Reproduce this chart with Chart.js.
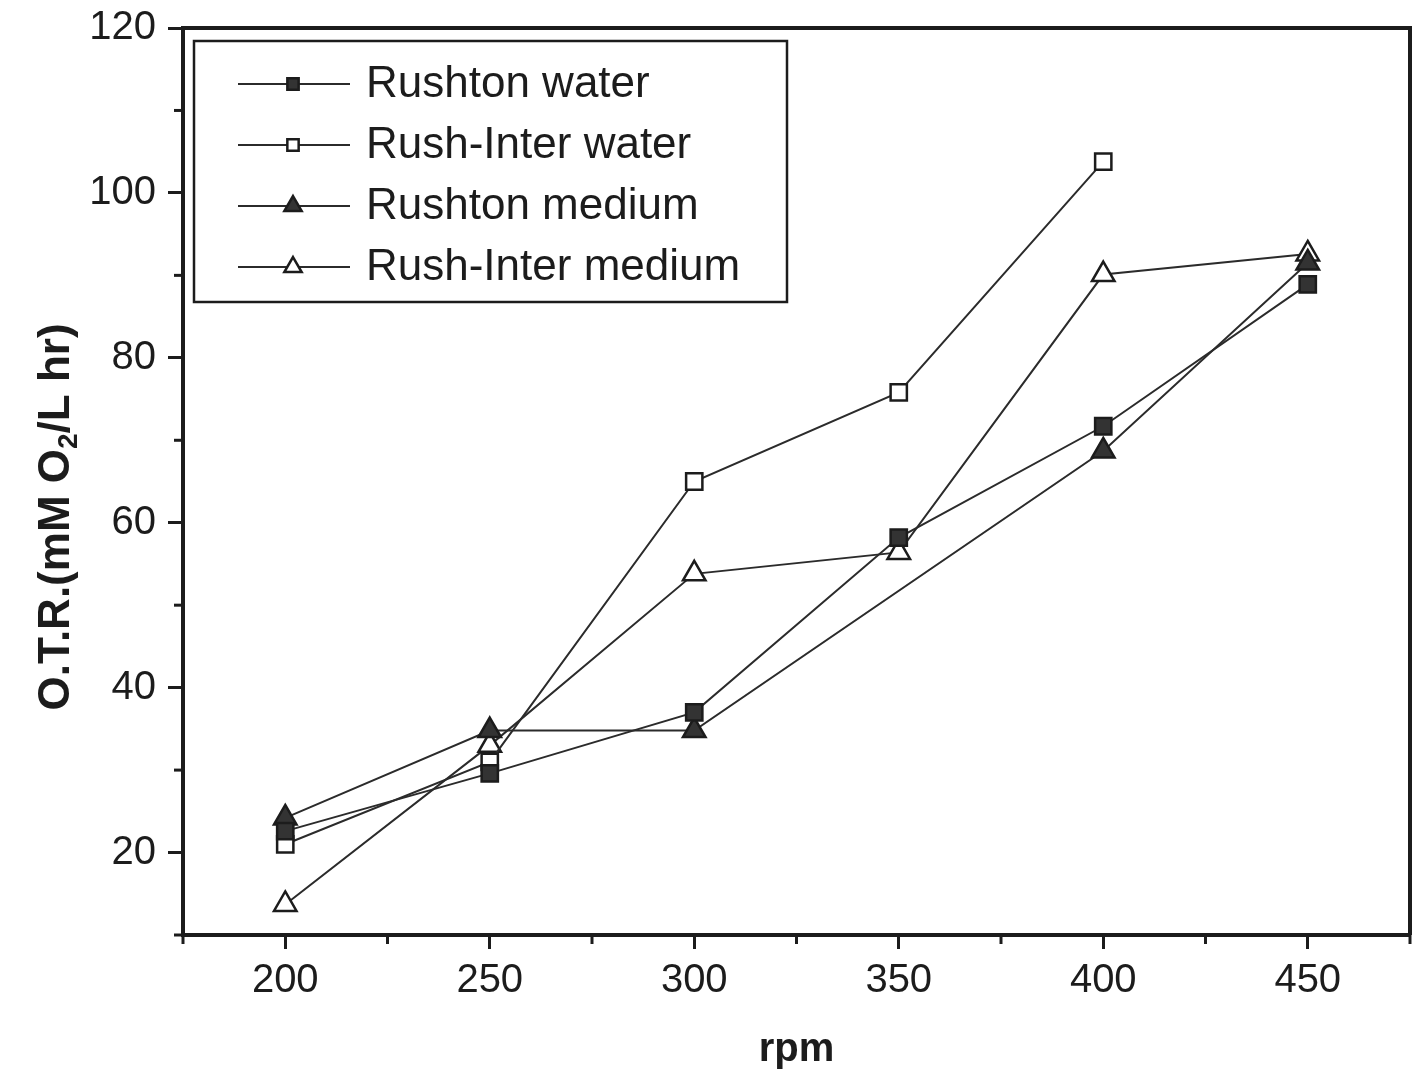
<!DOCTYPE html>
<html>
<head>
<meta charset="utf-8">
<script src="https://cdn.jsdelivr.net/npm/chart.js@4.4.0/dist/chart.umd.min.js"></script>
<style>
  html, body { margin: 0; padding: 0; background: #fff; }
  canvas { display: block; }
</style>
</head>
<body>
<canvas id="chart" width="1418" height="1077"></canvas>
<script>
// velocidad de agitación (rpm)
var rpm = [200, 250, 300, 350, 400, 450];

// O.T.R. por serie (null = sin medida)
var rushtonWater    = [22.6, 29.6, 37.0, 58.2, 71.7, 88.9];
var rushInterWater  = [21.0, 31.0, 65.0, 75.8, 103.8, null];
var rushtonMedium   = [24.2, 34.8, 34.8, null, 68.7, 91.5];
var rushInterMedium = [13.7, 33.0, 53.8, 56.4, 90.1, 92.6];

var nombres = ['Rushton water', 'Rush-Inter water', 'Rushton medium', 'Rush-Inter medium'];

// marcas de los ejes
var ticksX = [200, 250, 300, 350, 400, 450];
var menoresX = [175, 225, 275, 325, 375, 425, 475];
var ticksY = [20, 40, 60, 80, 100, 120];
var menoresY = [10, 30, 50, 70, 90, 110];

var FUENTE = '"Liberation Sans", Arial, sans-serif';
var NEGRO = '#1c1c1c';

function puntos(valores) {
    return valores.map(function (v, i) {
        return { x: rpm[i], y: v };
    });
}

function serie(nombre, valores, forma, relleno) {
    return {
        label: nombre,
        data: puntos(valores),
        borderColor: '#2b2b2b',
        borderWidth: 2,
        pointStyle: forma,
        pointRadius: forma === 'rect' ? 11.5 : 13,
        pointBackgroundColor: relleno,
        pointBorderColor: NEGRO,
        pointBorderWidth: 2.5,
        spanGaps: true,
        tension: 0,
        fill: false
    };
}

//MARCO, TICKS MENORES, TITULO Y Y LEYENDA
var extras = {
    id: 'extras',
    afterDraw: function (chart) {
        var ctx = chart.ctx;
        var area = chart.chartArea;
        var sx = chart.scales.x;
        var sy = chart.scales.y;
        ctx.save();

        // borde superior y derecho
        ctx.strokeStyle = NEGRO;
        ctx.lineWidth = 4;
        ctx.beginPath();
        ctx.moveTo(area.left, area.top);
        ctx.lineTo(area.right, area.top);
        ctx.lineTo(area.right, area.bottom);
        ctx.stroke();

        // ticks menores
        ctx.lineWidth = 3;
        menoresX.forEach(function (v) {
            var px = sx.getPixelForValue(v);
            ctx.beginPath();
            ctx.moveTo(px, area.bottom);
            ctx.lineTo(px, area.bottom + 9);
            ctx.stroke();
        });
        menoresY.forEach(function (v) {
            var py = sy.getPixelForValue(v);
            ctx.beginPath();
            ctx.moveTo(area.left, py);
            ctx.lineTo(area.left - 9, py);
            ctx.stroke();
        });

        // titulo del eje Y con subindice
        var partes = ['O.T.R.(mM O', '2', '/L hr)'];
        var fBold = 'bold 44px ' + FUENTE;
        var fSub = 'bold 28px ' + FUENTE;
        ctx.font = fBold;
        var w0 = ctx.measureText(partes[0]).width;
        var w2 = ctx.measureText(partes[2]).width;
        ctx.font = fSub;
        var w1 = ctx.measureText(partes[1]).width;
        var total = w0 + w1 + w2;
        ctx.translate(57, 517);
        ctx.rotate(-Math.PI / 2);
        ctx.fillStyle = NEGRO;
        ctx.textBaseline = 'middle';
        ctx.textAlign = 'left';
        var x0 = -total / 2;
        ctx.font = fBold;
        ctx.fillText(partes[0], x0, 0);
        ctx.font = fSub;
        ctx.fillText(partes[1], x0 + w0, 12);
        ctx.font = fBold;
        ctx.fillText(partes[2], x0 + w0 + w1, 0);
        ctx.setTransform(1, 0, 0, 1, 0, 0);

        // leyenda
        ctx.strokeStyle = NEGRO;
        ctx.lineWidth = 2.5;
        ctx.strokeRect(194, 41, 593, 261);
        ctx.font = '44px ' + FUENTE;
        ctx.textBaseline = 'middle';
        ctx.textAlign = 'left';
        chart.data.datasets.forEach(function (ds, i) {
            var y = 84 + i * 61;
            ctx.strokeStyle = ds.borderColor;
            ctx.lineWidth = 2;
            ctx.beginPath();
            ctx.moveTo(238, y);
            ctx.lineTo(350, y);
            ctx.stroke();
            ctx.fillStyle = ds.pointBackgroundColor;
            ctx.strokeStyle = ds.pointBorderColor;
            ctx.lineWidth = 2.5;
            Chart.helpers.drawPoint(ctx, {
                pointStyle: ds.pointStyle,
                radius: ds.pointStyle === 'rect' ? 8 : 10,
                rotation: 0,
                borderWidth: 2.5
            }, 293, y);
            ctx.fillStyle = NEGRO;
            ctx.fillText(ds.label, 366, y + 1);
        });
        ctx.restore();
    }
};

var ctx = document.getElementById('chart');
var miGrafica = new Chart(ctx, {
    type: 'line',
    data: {
        datasets: [
            serie(nombres[0], rushtonWater, 'rect', '#333333'),
            serie(nombres[1], rushInterWater, 'rect', '#ffffff'),
            serie(nombres[2], rushtonMedium, 'triangle', '#333333'),
            serie(nombres[3], rushInterMedium, 'triangle', '#ffffff')
        ]
    },
    options: {
        responsive: false,
        animation: false,
        layout: { autoPadding: false, padding: { top: 28, right: 8, left: 0, bottom: 0 } },
        plugins: {
            legend: { display: false },
            tooltip: { enabled: false }
        },
        scales: {
            x: {
                type: 'linear',
                min: 175,
                max: 475,
                afterFit: function (scale) {
                    scale.height = 142;
                    scale.paddingLeft = 0;
                    scale.paddingRight = 0;
                },
                afterBuildTicks: function (scale) {
                    scale.ticks = ticksX.map(function (v) { return { value: v }; });
                },
                border: { display: true, color: NEGRO, width: 4 },
                grid: { drawOnChartArea: false, drawTicks: true, tickLength: 14, tickWidth: 3, tickColor: NEGRO },
                ticks: {
                    color: NEGRO,
                    padding: 8,
                    maxRotation: 0,
                    font: { family: FUENTE, size: 40 }
                },
                title: {
                    display: true,
                    text: 'rpm',
                    color: NEGRO,
                    padding: { top: 0, bottom: 3 },
                    font: { family: FUENTE, size: 40, weight: 'bold' }
                }
            },
            y: {
                min: 10,
                max: 120,
                afterFit: function (scale) {
                    scale.width = 183;
                    scale.paddingTop = 0;
                    scale.paddingBottom = 0;
                },
                afterBuildTicks: function (scale) {
                    scale.ticks = ticksY.map(function (v) { return { value: v }; });
                },
                border: { display: true, color: NEGRO, width: 4 },
                grid: { drawOnChartArea: false, drawTicks: true, tickLength: 15, tickWidth: 3, tickColor: NEGRO },
                ticks: {
                    color: NEGRO,
                    padding: 12,
                    font: { family: FUENTE, size: 40 }
                },
                title: { display: false }
            }
        }
    },
    plugins: [extras]
});
</script>
</body>
</html>
